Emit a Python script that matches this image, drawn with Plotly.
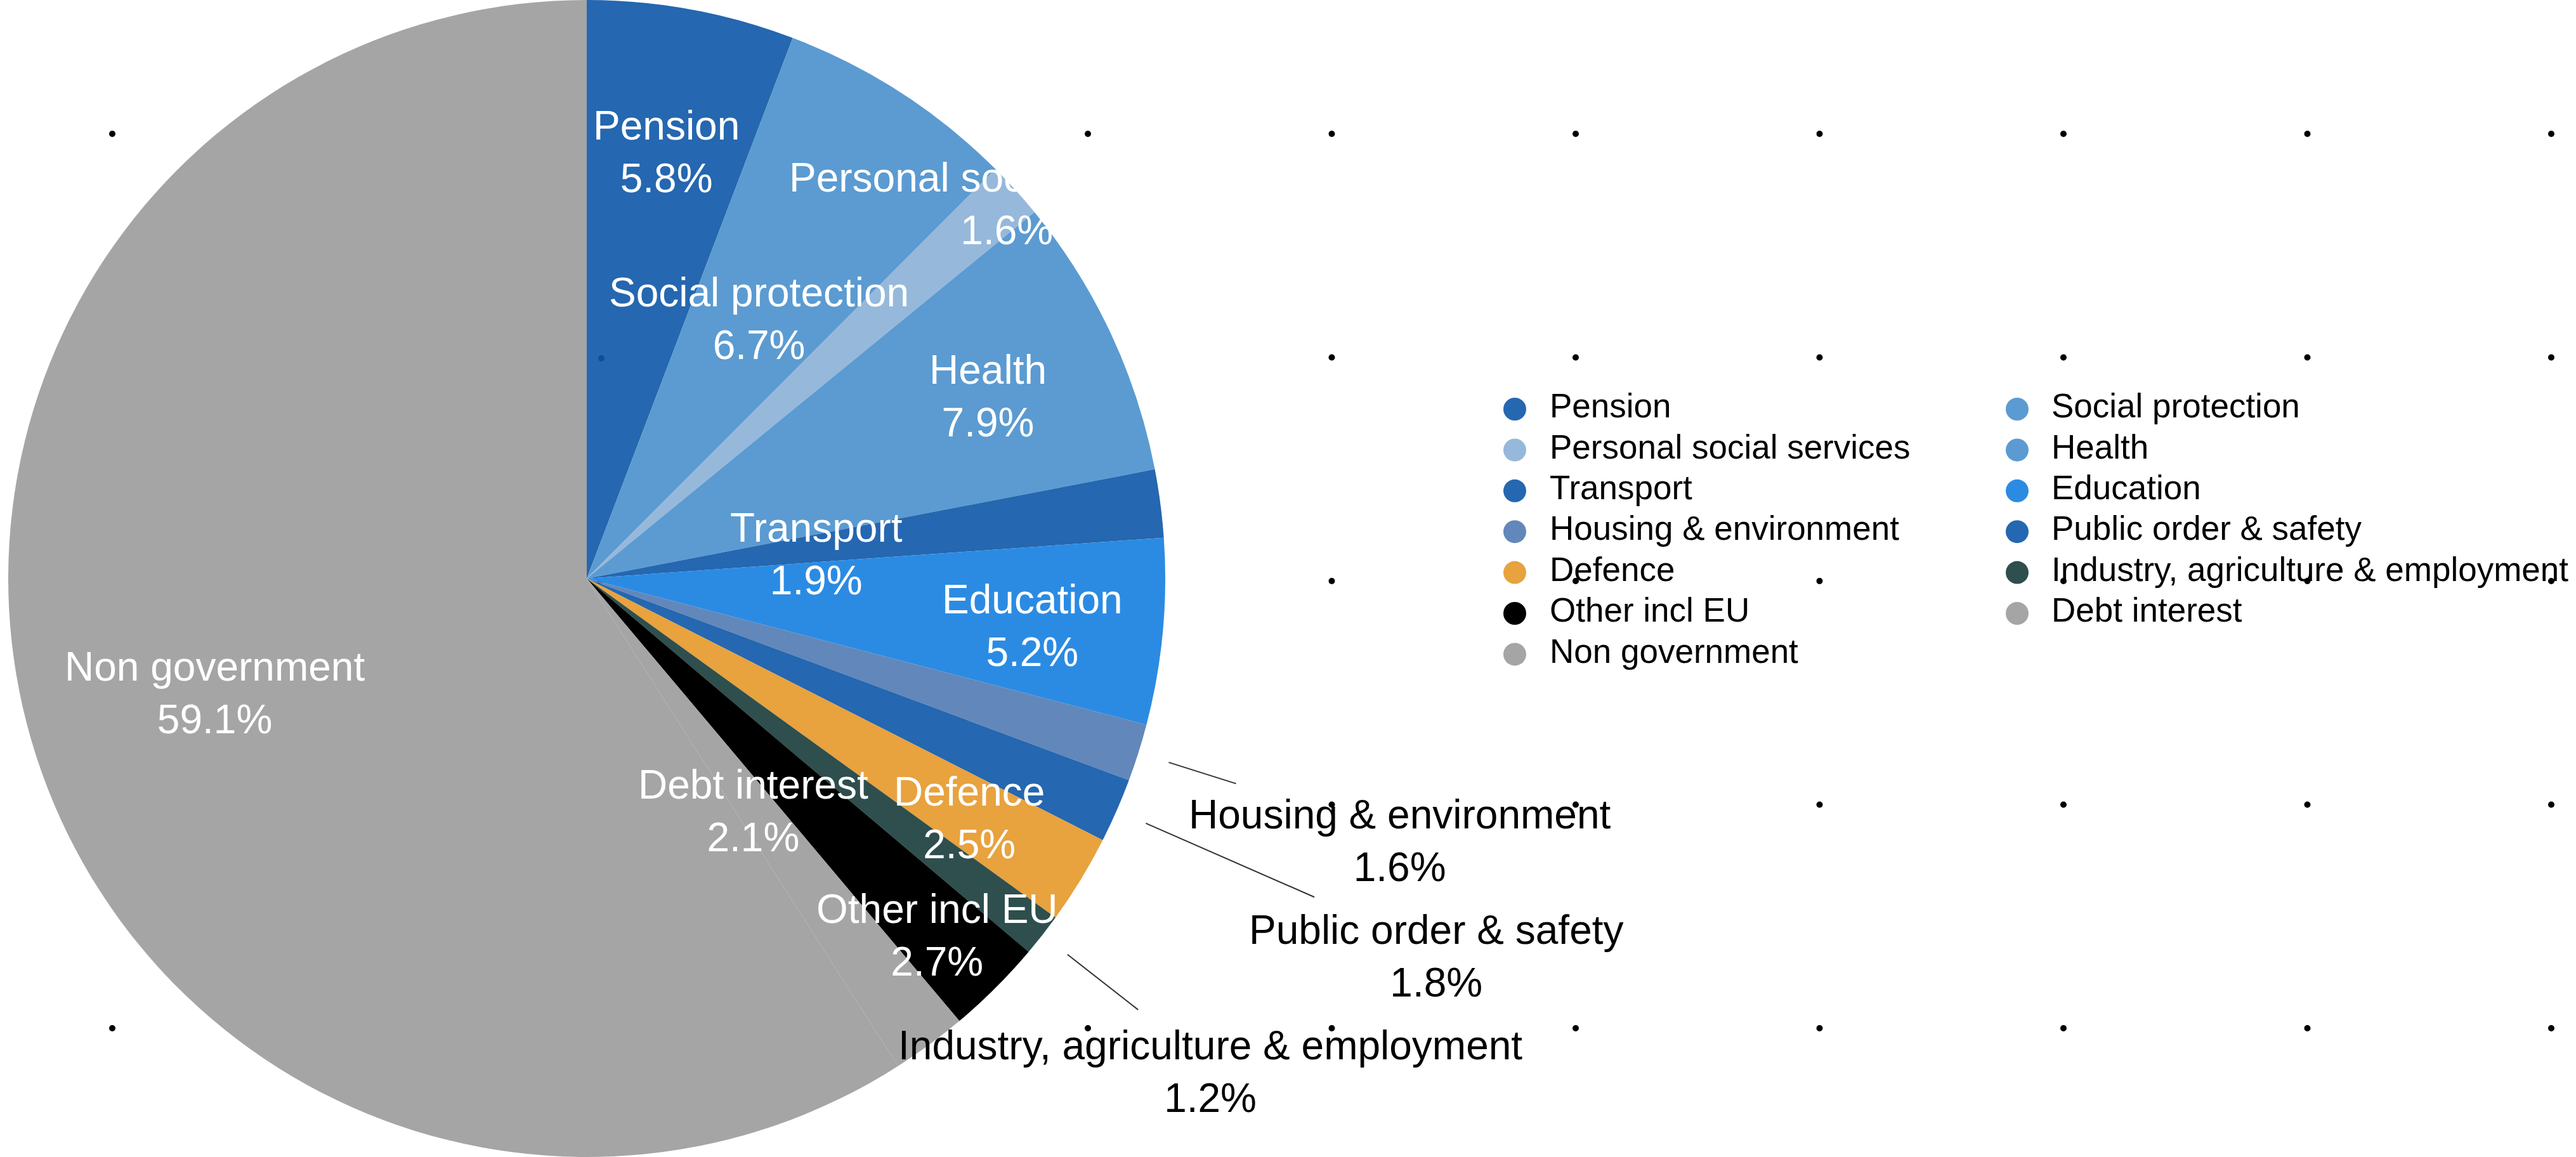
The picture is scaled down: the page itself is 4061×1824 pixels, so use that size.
import math
import plotly.graph_objects as go

W, H = 4061, 1824

# ---- data -------------------------------------------------------------
categories = [
    "Pension", "Social protection", "Personal social services", "Health",
    "Transport", "Education", "Housing & environment", "Public order & safety",
    "Defence", "Industry, agriculture & employment", "Other incl EU",
    "Debt interest", "Non government",
]
shares = [5.8, 6.7, 1.6, 7.9, 1.9, 5.2, 1.6, 1.8, 2.5, 1.2, 2.7, 2.1, 59.1]

# ---- styling ----------------------------------------------------------
colors = [
    "#2567b0", "#5b9bd1", "#96b8db", "#5b9bd1", "#2567b0", "#2b8be3",
    "#6287ba", "#2567b0", "#e8a23e", "#2e4f4d", "#000000", "#a5a5a5", "#a5a5a5",
]
FONT = "Liberation Sans, Arial, Helvetica, sans-serif"

# pie geometry in pixels
CX, CY, R = 925, 912, 912

# radial distance of each slice label (as fraction of radius)
label_rho = {
    "Pension": 0.76, "Social protection": 0.547, "Personal social services": 0.98,
    "Health": 0.766, "Transport": 0.40, "Education": 0.774,
    "Housing & environment": 1.474, "Public order & safety": 1.603,
    "Defence": 0.775, "Industry, agriculture & employment": 1.368,
    "Other incl EU": 0.857, "Debt interest": 0.486, "Non government": 0.67,
}
# outside labels: leader line from the rim out to this radius fraction
leader_end = {
    "Housing & environment": 1.177,
    "Public order & safety": 1.373,
    "Industry, agriculture & employment": 1.21,
}


def polar_px(theta_deg, rho):
    t = math.radians(theta_deg)
    return CX + rho * R * math.sin(t), CY - rho * R * math.cos(t)


def to_paper(px, py):
    return px / W, 1 - py / H


fig = go.Figure()

# background dot grid (sits beneath the pie)
dot_x, dot_y = [], []
for r in range(5):
    for c in range(11):
        dot_x.append(177 + 384.5 * c)
        dot_y.append(211 + 352.5 * r)
fig.add_trace(go.Scatter(
    x=dot_x, y=dot_y, mode="markers",
    marker=dict(size=10, color="#000000"),
    hoverinfo="skip", showlegend=False,
))

# legend: two columns, row-major
leg_marker_x = [2388, 3180]
leg_text_x = [2443, 3234]
leg_y0, leg_dy = 645, 64.4
lx, ly, tx, ty = [], [], [], []
for i, name in enumerate(categories):
    row, col = divmod(i, 2)
    lx.append(leg_marker_x[col])
    ly.append(leg_y0 + leg_dy * row)
    tx.append(leg_text_x[col])
    ty.append(leg_y0 + leg_dy * row)
fig.add_trace(go.Scatter(
    x=lx, y=ly, mode="markers",
    marker=dict(size=36, color=colors, line=dict(width=0)),
    hoverinfo="skip", showlegend=False,
))
fig.add_trace(go.Scatter(
    x=tx, y=ty, mode="text", text=categories, textposition="middle right",
    textfont=dict(size=53, color="#000000", family=FONT),
    hoverinfo="skip", showlegend=False,
))

# the pie itself
fig.add_trace(go.Pie(
    labels=categories, values=shares, sort=False,
    direction="clockwise", rotation=0,
    marker=dict(colors=colors),
    textinfo="none", showlegend=False,
    domain=dict(x=[0, 2 * CX / W], y=[0, 1]),
))

# slice labels and leader lines
total = sum(shares)
annotations, shapes = [], []
cum = 0.0
for name, v in zip(categories, shares):
    mid = (cum + v / 2) / total * 360.0
    cum += v
    px, py = polar_px(mid, label_rho[name])
    xp, yp = to_paper(px, py)
    is_out = name in leader_end
    annotations.append(dict(
        x=xp, y=yp, xref="paper", yref="paper", yshift=-9,
        text=f"{name}<br>{v:.1f}%", showarrow=False,
        xanchor="center", yanchor="middle", align="center",
        font=dict(size=64, color="#000000" if is_out else "#ffffff", family=FONT),
    ))
    if is_out:
        x0, y0 = to_paper(*polar_px(mid, 1.055))
        x1, y1 = to_paper(*polar_px(mid, leader_end[name]))
        shapes.append(dict(
            type="line", xref="paper", yref="paper",
            x0=x0, y0=y0, x1=x1, y1=y1,
            line=dict(color="#333333", width=2), layer="above",
        ))

# one grid dot showing through the pension slice
shapes.append(dict(
    type="circle", xref="x", yref="y", x0=943, x1=953, y0=560, y1=570,
    fillcolor="#0f4f98", line=dict(width=0), layer="above",
))

fig.update_layout(
    width=W, height=H,
    margin=dict(l=0, r=0, t=0, b=0),
    paper_bgcolor="#ffffff", plot_bgcolor="#ffffff",
    showlegend=False,
    xaxis=dict(range=[0, W], visible=False, fixedrange=True, domain=[0, 1]),
    yaxis=dict(range=[H, 0], visible=False, fixedrange=True, domain=[0, 1]),
    annotations=annotations,
    shapes=shapes,
    font=dict(family=FONT),
)

fig.write_html("out.html")
